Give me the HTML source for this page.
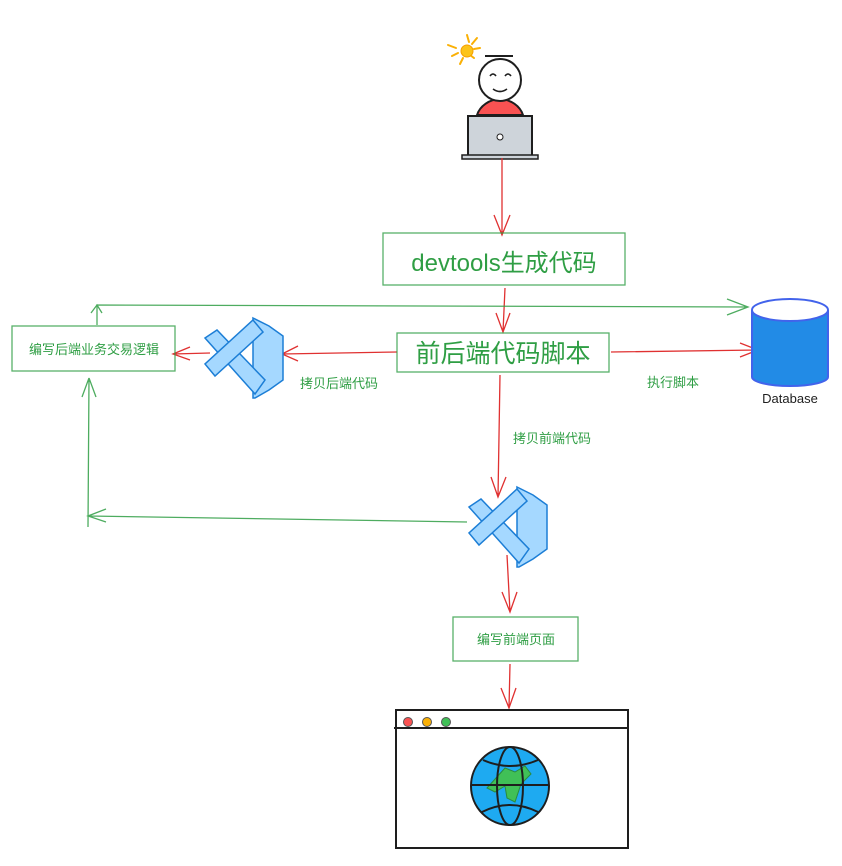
<!DOCTYPE html>
<html><head><meta charset="utf-8"><style>
html,body{margin:0;padding:0;background:#fff;}
svg{display:block;}
text{font-family:"Liberation Sans","Noto Sans CJK SC",sans-serif;}
</style></head><body>
<svg width="842" height="866" viewBox="0 0 842 866" xmlns="http://www.w3.org/2000/svg">
<defs>
<g id="vs">
  <polygon points="50,0 66,8 80,18 80,62 66,72 52,80 50,80" fill="#a5d8ff" stroke="#1c7ed6" stroke-width="1.5"/>
  <polygon points="2,20 14,12 62,62 52,76" fill="#a5d8ff" stroke="#1c7ed6" stroke-width="1.5"/>
  <polygon points="50,2 60,14 12,58 2,46" fill="#a5d8ff" stroke="#1c7ed6" stroke-width="1.5"/>
</g>
</defs>
<!-- sun -->
<g stroke="#fab005" stroke-width="2" stroke-linecap="round">
<line x1="467" y1="35" x2="469" y2="42"/><line x1="477" y1="38" x2="472" y2="44"/><line x1="448" y1="45" x2="456" y2="48"/><line x1="480" y1="48" x2="474" y2="49"/><line x1="452" y1="56" x2="458" y2="53"/><line x1="460" y1="64" x2="463" y2="58"/><line x1="474" y1="58" x2="470" y2="55"/>
</g>
<circle cx="467" cy="51" r="6" fill="#fcc419" stroke="#f59f00"/>
<!-- person -->
<path d="M477 115 A24 22 0 0 1 523 115 Z" fill="#fa5252" stroke="#1e1e1e" stroke-width="2"/>
<circle cx="500" cy="80" r="21" fill="#fff" stroke="#1e1e1e" stroke-width="2"/>
<line x1="485" y1="56" x2="513" y2="56" stroke="#1e1e1e" stroke-width="2"/>
<path d="M490 76 q3 -4 6 0 M505 76 q3 -4 6 0 M493 89 q7 5 14 0" fill="none" stroke="#1e1e1e" stroke-width="1.6"/>
<rect x="468" y="116" width="64" height="40" fill="#ced4da" stroke="#1e1e1e" stroke-width="2"/>
<rect x="462" y="155" width="76" height="4" fill="#ced4da" stroke="#1e1e1e" stroke-width="1.5"/>
<circle cx="500" cy="137" r="3" fill="#fff" stroke="#1e1e1e"/>
<!-- red arrows -->
<g stroke="#e03131" stroke-width="1.3" fill="none">
<path d="M502 158 L502 235 M494 215 L502 235 L510 215"/>
<path d="M505 288 L503 332 M496 313 L503 332 L510 313"/>
<path d="M397 352 L282 354 M298 346 L282 354 L298 361"/>
<path d="M210 353 L173 354 M190 347 L173 354 L190 360"/>
<path d="M611 352 L758 350 M740 343 L758 350 L740 357"/>
<path d="M500 375 L498 497 M491 477 L498 497 L506 477"/>
<path d="M507 555 L510 612 M502 592 L510 612 L517 592"/>
<path d="M510 664 L509 708 M501 688 L509 708 L516 688"/>
</g>
<!-- green connectors -->
<g stroke="#2f9e44" stroke-width="1.3" fill="none" opacity="0.85">
<path d="M97 325 L97 305 L748 307 M727 299 L748 307 L727 315"/>
<path d="M91 313 L97 305 L102 313"/>
<path d="M467 522 L88 516 M106 509 L88 516 L106 522"/>
<path d="M88 527 L89 378 M82 397 L89 378 M96 397 L89 378"/>
</g>
<!-- boxes -->
<g fill="none" stroke="#2f9e44" stroke-width="1.3" opacity="0.8">
<rect x="383" y="233" width="242" height="52"/>
<rect x="397" y="333" width="212" height="39"/>
<rect x="12" y="326" width="163" height="45"/>
<rect x="453" y="617" width="125" height="44"/>
</g>
<g fill="#2f9e44" text-anchor="middle">
<text x="504" y="271" font-size="24">devtools生成代码</text>
<text x="503" y="362" font-size="25">前后端代码脚本</text>
<text x="94" y="354" font-size="13">编写后端业务交易逻辑</text>
<text x="516" y="644" font-size="13">编写前端页面</text>
<text x="339" y="388" font-size="13">拷贝后端代码</text>
<text x="552" y="443" font-size="13">拷贝前端代码</text>
<text x="673" y="387" font-size="13">执行脚本</text>
</g>
<!-- vs code icons -->
<use href="#vs" x="203" y="318"/>
<use href="#vs" x="467" y="487"/>
<!-- database -->
<path d="M752 310 L752 377 A38 9 0 0 0 828 377 L828 310" fill="#228be6" stroke="#4263eb" stroke-width="2"/>
<ellipse cx="790" cy="310" rx="38" ry="11" fill="#fff" stroke="#4263eb" stroke-width="2"/>
<text x="790" y="403" font-size="13" text-anchor="middle" fill="#1e1e1e" font-family="Liberation Mono,monospace">Database</text>
<!-- browser -->
<rect x="396" y="710" width="232" height="138" fill="#fff" stroke="#1e1e1e" stroke-width="2"/>
<line x1="394" y1="728" x2="628" y2="728" stroke="#1e1e1e" stroke-width="2"/>
<circle cx="408" cy="722" r="4.5" fill="#fa5252" stroke="#555"/>
<circle cx="427" cy="722" r="4.5" fill="#fab005" stroke="#555"/>
<circle cx="446" cy="722" r="4.5" fill="#40c057" stroke="#555"/>
<circle cx="510" cy="786" r="39" fill="#1eaaf1" stroke="#1e1e1e" stroke-width="2"/>
<path d="M505 768 l10 4 l10 -6 l6 8 l-10 10 l-6 18 l-8 -4 l-2 -12 l-10 6 l-8 -4 z" fill="#40c057" stroke="#2b8a3e"/>
<g fill="none" stroke="#1e1e1e" stroke-width="2">
<ellipse cx="510" cy="786" rx="13" ry="39"/>
<line x1="471" y1="785" x2="549" y2="785"/>
<path d="M483 760 q27 12 55 0 M482 812 q28 -14 56 0"/>
</g>
</svg>
</body></html>
